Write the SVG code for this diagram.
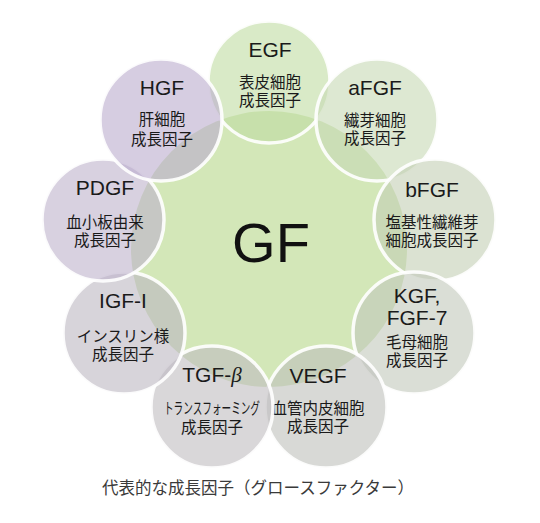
<svg xmlns="http://www.w3.org/2000/svg" width="540" height="523" viewBox="0 0 540 523">
<style>
  .ring { stroke: #ffffff; stroke-width: 3.5; stroke-opacity: 0.9; fill-opacity: 0.6; }
  .lbl { font-family: "Liberation Sans", Arial, sans-serif; font-size: 21px; fill: #1a1a1a; text-anchor: middle; }
  .jp { font-family: "Noto Sans CJK JP", "Noto Sans CJK SC", sans-serif; font-size: 15.5px; fill: #1a1a1a; text-anchor: middle; }
  .cap { font-family: "Noto Sans CJK JP", "Noto Sans CJK SC", sans-serif; font-size: 16.5px; fill: #3a3a3a; text-anchor: middle; }
</style>
<rect width="540" height="523" fill="#ffffff"/>
<g id="center">
  <circle cx="269" cy="249" r="138" fill="#d3e7b8"/>
</g>
<g id="egf">
  <circle class="ring" cx="269" cy="82" r="61" fill="#c0dca2"/>
  <text class="lbl" x="270" y="57">EGF</text>
  <text class="jp" x="270" y="88">表皮細胞</text>
  <text class="jp" x="270" y="106">成長因子</text>
</g>
<g id="afgf">
  <circle class="ring" cx="377" cy="120" r="61" fill="#c6d9b4"/>
  <text class="lbl" x="375" y="95">aFGF</text>
  <text class="jp" x="375" y="126">繊芽細胞</text>
  <text class="jp" x="375" y="144">成長因子</text>
</g>
<g id="bfgf">
  <circle class="ring" cx="435" cy="220" r="61" fill="#c3cfb4"/>
  <text class="lbl" x="432" y="197">bFGF</text>
  <text class="jp" x="432" y="228">塩基性繊維芽</text>
  <text class="jp" x="432" y="246">細胞成長因子</text>
</g>
<g id="kgf">
  <circle class="ring" cx="414" cy="333" r="61" fill="#c1c8bb"/>
  <text class="lbl" x="417" y="303">KGF,</text>
  <text class="lbl" x="417" y="325">FGF-7</text>
  <text class="jp" x="417" y="348">毛母細胞</text>
  <text class="jp" x="417" y="366">成長因子</text>
</g>
<g id="vegf">
  <circle class="ring" cx="326" cy="407" r="61" fill="#bec0bb"/>
  <text class="lbl" x="318" y="383">VEGF</text>
  <text class="jp" x="318" y="414">血管内皮細胞</text>
  <text class="jp" x="318" y="432">成長因子</text>
</g>
<g id="tgf">
  <circle class="ring" cx="212" cy="407" r="61" fill="#c0bcc0"/>
  <text class="lbl" x="212" y="382">TGF-<tspan font-style="italic" font-family="Liberation Serif, serif">β</tspan></text>
  <text class="jp" x="212" y="414" font-size="13" textLength="96" lengthAdjust="spacingAndGlyphs">トランスフォーミング</text>
  <text class="jp" x="212" y="433">成長因子</text>
</g>
<g id="igf">
  <circle class="ring" cx="124" cy="333" r="61" fill="#bcb7c1"/>
  <text class="lbl" x="123" y="308">IGF-I</text>
  <text class="jp" x="123" y="342">インスリン様</text>
  <text class="jp" x="123" y="360">成長因子</text>
</g>
<g id="pdgf">
  <circle class="ring" cx="103" cy="220" r="61" fill="#beb2cb"/>
  <text class="lbl" x="105" y="195">PDGF</text>
  <text class="jp" x="105" y="228">血小板由来</text>
  <text class="jp" x="105" y="246">成長因子</text>
</g>
<g id="hgf">
  <circle class="ring" cx="161" cy="120" r="61" fill="#bbaccd"/>
  <text class="lbl" x="162" y="95">HGF</text>
  <text class="jp" x="162" y="125">肝細胞</text>
  <text class="jp" x="162" y="145">成長因子</text>
</g>
<g id="gf-label">
  <text x="271" y="262" font-family="Liberation Sans, Arial, sans-serif" font-size="56" fill="#111111" text-anchor="middle">GF</text>
</g>
<g id="caption">
  <text class="cap" x="258" y="494">代表的な成長因子（グロースファクター）</text>
</g>
</svg>
